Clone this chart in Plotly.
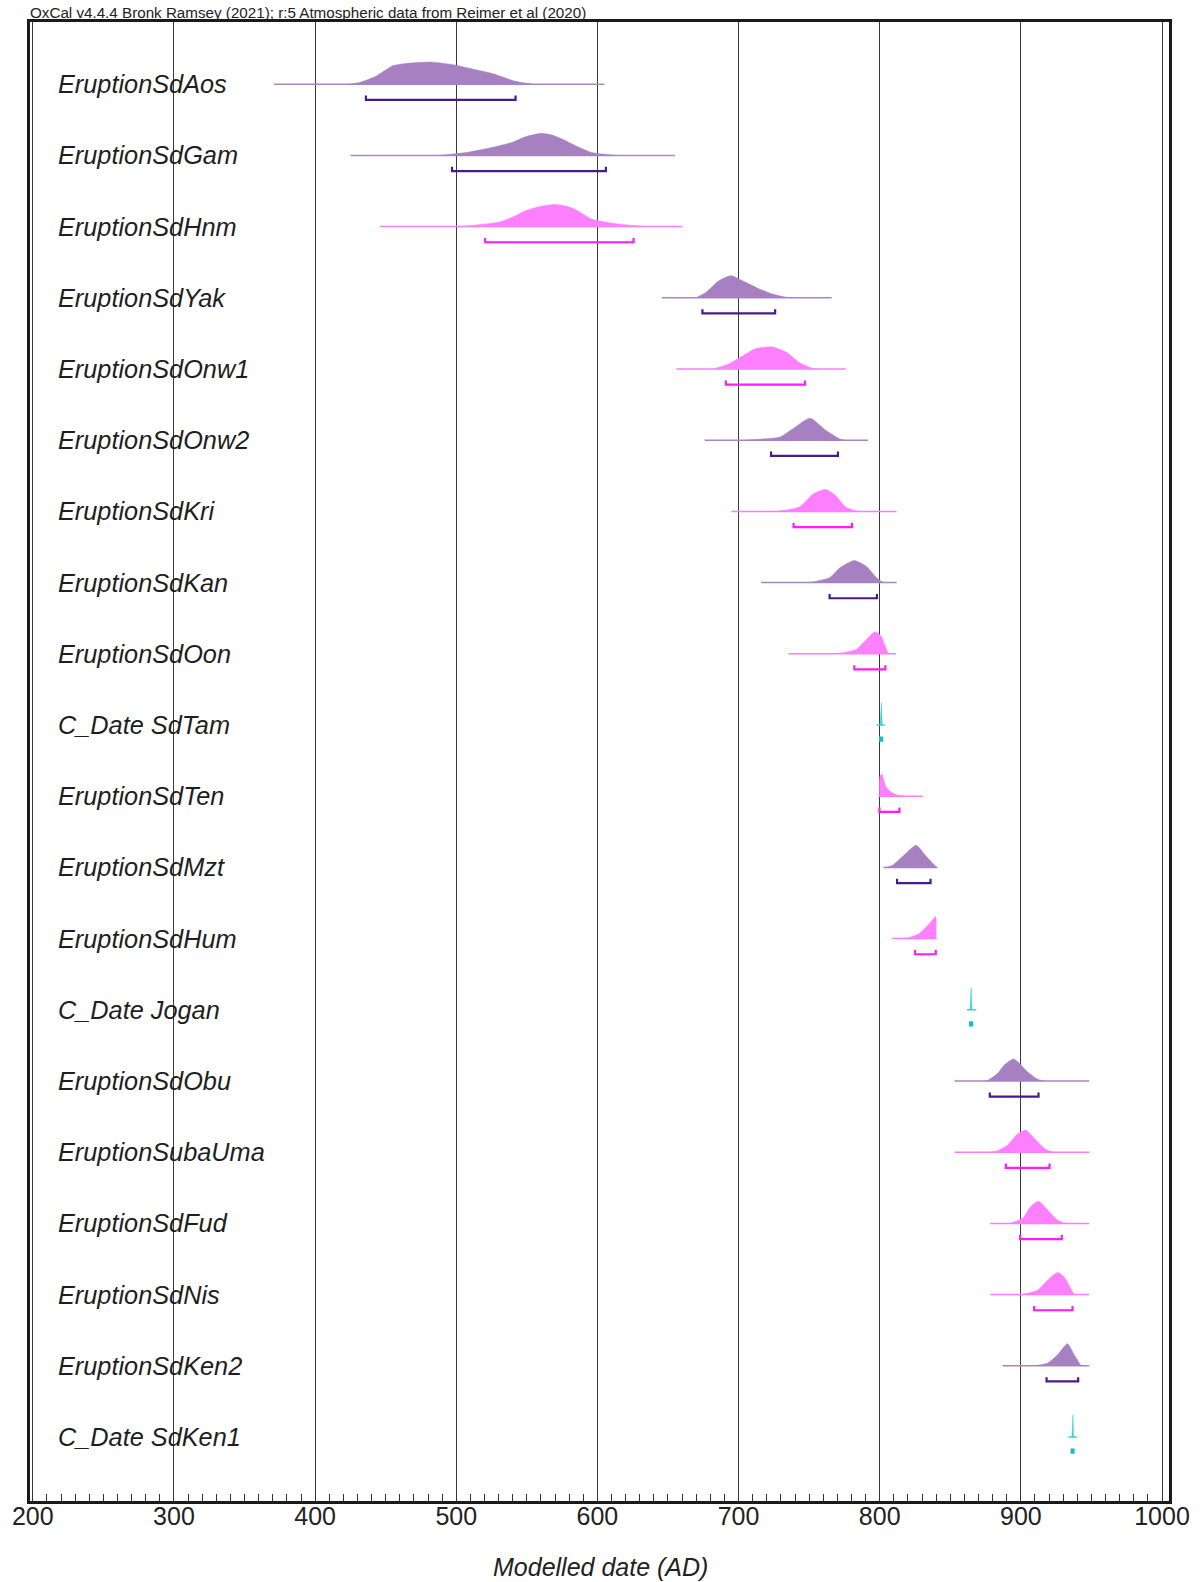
import plotly.graph_objects as go

# ---------------- data ----------------
labels = ["EruptionSdAos", "EruptionSdGam", "EruptionSdHnm", "EruptionSdYak", "EruptionSdOnw1",
          "EruptionSdOnw2", "EruptionSdKri", "EruptionSdKan", "EruptionSdOon", "C_Date SdTam",
          "EruptionSdTen", "EruptionSdMzt", "EruptionSdHum", "C_Date Jogan", "EruptionSdObu",
          "EruptionSubaUma", "EruptionSdFud", "EruptionSdNis", "EruptionSdKen2", "C_Date SdKen1"]

groups = ["purple", "purple", "pink", "purple", "pink",
          "purple", "pink", "purple", "pink", "cyan",
          "pink", "purple", "pink", "cyan", "purple",
          "pink", "pink", "pink", "purple", "cyan"]

# full extent of each distribution (thin baseline)
range_lo = [371, 425, 446, 645.6, 656, 676, 695, 716, 735.5, 798,
            799, 802.6, 808.8, 861.7, 853, 853, 878.3, 878.3, 887.1, 933.8]
range_hi = [605, 655, 660, 766, 776, 791.7, 812, 812, 811.6, 803.5,
            830.5, 840.7, 840.4, 868.4, 948.4, 948.4, 948.4, 948.4, 948.4, 939.7]

# 95.4% ranges (brackets)
hpd_lo = [436, 497, 520.5, 674.4, 691, 723, 739, 764.5, 782, 800.3,
          799.8, 812.3, 825, 864.0, 878, 889.4, 899.5, 909.4, 918.2, 936.0]
hpd_hi = [542, 606, 625.6, 725.9, 747, 770.4, 780.3, 798, 804, 801.7,
          814, 836, 839.7, 865.3, 912.5, 920.3, 929, 936.6, 940.6, 937.3]

# probability density outlines (relative to each peak)
dens_years = [
    [424, 431.5, 438.6, 443.3, 455, 462, 464.5, 483.3, 499.1, 513.9, 525.6, 542.1, 553.9],
    [488, 506.8, 526, 540, 549, 560, 568, 577, 587, 596, 613],
    [502, 530, 539.7, 549, 558.6, 570, 579.7, 586, 596, 608, 624, 636],
    [669.7, 676.8, 686, 694.6, 705, 714.7, 724, 733.7, 740],
    [682, 693, 703, 712, 724, 733.7, 743, 752.6, 756],
    [705, 712, 729, 738, 750.7, 762, 771.6, 775],
    [726, 743, 752.6, 761.6, 769, 776, 783.4, 786],
    [750, 764.5, 771.6, 782, 790.5, 797.7, 802, 804],
    [768, 783.3, 790.4, 796.7, 801, 805.7, 807],
    [800.3, 800.9, 801.2, 801.8],
    [799.9, 800.2, 801.5, 804.5, 809.2, 814, 820],
    [804, 809.2, 816.3, 825.8, 832.9, 840, 841],
    [812, 821, 828, 834, 838.8, 839.7, 839.9],
    [864.0, 864.5, 864.8, 865.3],
    [874, 876.4, 883.5, 888.3, 894.8, 900, 904.7, 911.8, 916.5],
    [878, 883.5, 890.6, 897.6, 903.5, 909.4, 916.5, 921.2, 924],
    [892, 901.2, 907, 912.5, 918.9, 926, 930.7, 932],
    [900, 911.8, 918.9, 926, 930.7, 935.4, 937.8],
    [908, 918.9, 926, 933, 937.8, 942.6, 943.5],
    [936.2, 936.6, 936.9, 937.3],
]
dens_vals = [
    [0, 0.08, 0.24, 0.37, 0.84, 0.92, 0.94, 1.0, 0.87, 0.65, 0.48, 0.13, 0],
    [0, 0.13, 0.37, 0.6, 0.84, 1.0, 0.92, 0.68, 0.37, 0.13, 0],
    [0, 0.2, 0.42, 0.72, 0.9, 1.0, 0.9, 0.72, 0.34, 0.18, 0.06, 0],
    [0, 0.24, 0.77, 1.0, 0.7, 0.4, 0.17, 0.03, 0],
    [0, 0.23, 0.6, 0.92, 1.0, 0.77, 0.3, 0.03, 0],
    [0, 0.03, 0.14, 0.5, 1.0, 0.44, 0.06, 0],
    [0, 0.2, 0.78, 1.0, 0.7, 0.2, 0.02, 0],
    [0, 0.22, 0.66, 1.0, 0.74, 0.22, 0.03, 0],
    [0, 0.2, 0.64, 1.0, 0.79, 0.07, 0],
    [0, 1.0, 1.0, 0],
    [0, 0.9, 1.0, 0.42, 0.14, 0.03, 0],
    [0, 0.1, 0.5, 1.0, 0.5, 0.03, 0],
    [0, 0.05, 0.23, 0.6, 0.95, 1.0, 0],
    [0, 1.0, 1.0, 0],
    [0, 0.02, 0.35, 0.73, 1.0, 0.73, 0.42, 0.08, 0],
    [0, 0.07, 0.33, 0.82, 1.0, 0.63, 0.18, 0.03, 0],
    [0, 0.23, 0.77, 1.0, 0.62, 0.15, 0.02, 0],
    [0, 0.2, 0.65, 1.0, 0.8, 0.27, 0],
    [0, 0.12, 0.5, 1.0, 0.5, 0.02, 0],
    [0, 1.0, 1.0, 0],
]

tick_vals = [200, 300, 400, 500, 600, 700, 800, 900, 1000]
caption = "OxCal v4.4.4 Bronk Ramsey (2021); r:5 Atmospheric data from Reimer et al (2020)"
x_title = "Modelled date (AD)"

# ---------------- styles ----------------
fill_col = {"purple": "#a680c0", "pink": "#ff80ff", "cyan": "#33d0d8"}
base_col = {"purple": "#a985c6", "pink": "#ff7aff", "cyan": "#33d0d8"}
brk_col = {"purple": "#4a1a8c", "pink": "#ff1aff", "cyan": "#10c0c8"}
PEAK = 0.31      # peak height in row units
BRK = 0.22       # bracket offset below baseline (row units)
TICK = 0.06      # bracket end-tick height
FONT = "Liberation Sans, Arial, sans-serif"

fig = go.Figure()

for i, lab in enumerate(labels):
    g = groups[i]
    fig.add_trace(go.Scatter(x=[range_lo[i], range_hi[i]], y=[i, i], mode="lines",
                             line=dict(color=base_col[g], width=1.5),
                             hoverinfo="skip", showlegend=False))
    xs = dens_years[i]
    ys = [i - PEAK * v for v in dens_vals[i]]
    fig.add_trace(go.Scatter(x=xs, y=ys, mode="lines", fill="toself",
                             fillcolor=fill_col[g],
                             line=dict(color=fill_col[g], width=0.5,
                                       shape="spline" if g != "cyan" else "linear",
                                       smoothing=0.6),
                             hoverinfo="skip", showlegend=False))
    yb = i + BRK
    fig.add_trace(go.Scatter(x=[hpd_lo[i], hpd_lo[i], hpd_hi[i], hpd_hi[i]],
                             y=[yb - TICK, yb, yb, yb - TICK], mode="lines",
                             line=dict(color=brk_col[g], width=2.2),
                             hoverinfo="skip", showlegend=False))
    fig.add_annotation(x=0.023, xref="paper", y=i, yref="y", text=lab,
                       showarrow=False, xanchor="left", yanchor="middle",
                       font=dict(family=FONT, size=25.3, color="#1e1e1e", style="italic"))

fig.add_annotation(x=-0.002, xref="paper", y=1.0, yref="paper", text=caption,
                   showarrow=False, xanchor="left", yanchor="bottom", yshift=-1.5,
                   font=dict(family=FONT, size=15.2, color="#222"))
fig.add_annotation(x=0.501, xref="paper", y=-0.0445, yref="paper", text=x_title,
                   showarrow=False, xanchor="center", yanchor="middle",
                   font=dict(family=FONT, size=25, color="#222", style="italic"))

fig.update_layout(
    width=1202, height=1582,
    margin=dict(l=30, r=31, t=22, b=81),
    paper_bgcolor="white", plot_bgcolor="white",
    showlegend=False,
    xaxis=dict(range=[198.0, 1004.95], tickvals=tick_vals, ticktext=[str(v) for v in tick_vals],
               showgrid=True, gridcolor="#3a3a3a", gridwidth=1,
               showline=True, linecolor="#1a1a1a", linewidth=2.5, mirror=True,
               ticks="inside", ticklen=9, tickwidth=1, tickcolor="#333",
               minor=dict(dtick=10, tick0=200, ticks="inside", ticklen=7, tickwidth=1,
                          tickcolor="#333", showgrid=False),
               tickfont=dict(family=FONT, size=25, color="#222"),
               ticklabelstandoff=-9,
               zeroline=False, fixedrange=True),
    yaxis=dict(range=[19.899, -0.8736], showgrid=False, showticklabels=False,
               showline=True, linecolor="#1a1a1a", linewidth=2.5, mirror=True,
               ticks="", zeroline=False, fixedrange=True),
)

fig.write_html("out.html")
